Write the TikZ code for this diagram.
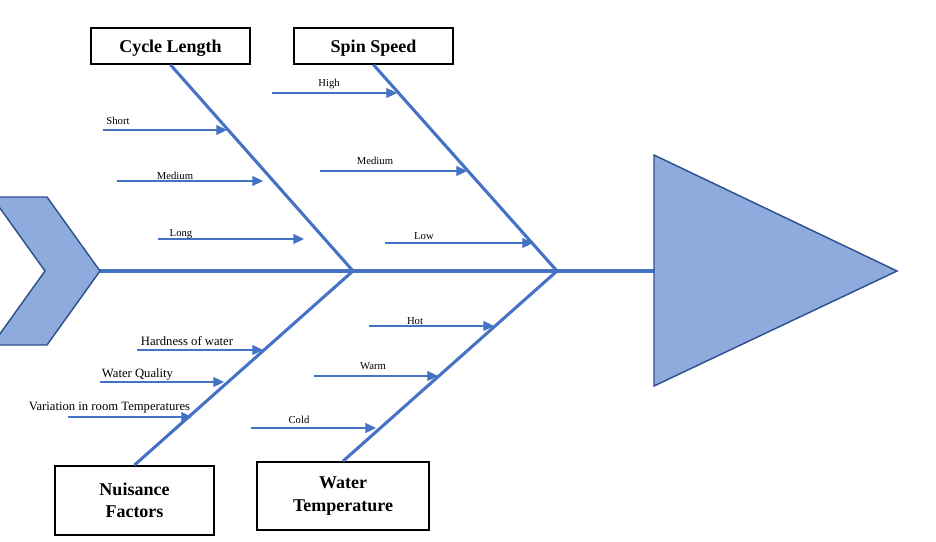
\documentclass[tikz,border=0pt]{standalone}
\usepackage{fontspec}
\setmainfont{Liberation Serif}
\usetikzlibrary{arrows.meta}
\definecolor{bonecol}{HTML}{4472C4}
\definecolor{shapefill}{HTML}{8FAADC}
\definecolor{shapeline}{HTML}{2F528F}

\begin{document}
\begin{tikzpicture}[x=0.75pt, y=-0.75pt, >={Triangle[length=8pt,width=7.5pt]},
                    cause/.style={draw=black, line width=1.2pt, fill=white, align=center, inner sep=0pt,
                                  font=\fontsize{13.5}{17}\selectfont\bfseries, minimum width=119pt},
                    oneline/.style={text height=12pt, text depth=1.5pt},
                    sub/.style={font=\fontsize{8}{9}\selectfont, anchor=base},
                    subbig/.style={font=\fontsize{9.5}{11}\selectfont, anchor=base},
                    bone/.style={draw=bonecol, line width=2.3pt},
                    twig/.style={draw=bonecol, line width=0.8pt, ->},
                    arrowshape/.style={fill=shapefill, draw=shapeline, line width=1.1pt}]

\useasboundingbox (0,0) rectangle (936,542);
\clip (0,0) rectangle (936,542);

\coordinate (tail) at (100,271);
\coordinate (head) at (654,271);
\coordinate (j1) at (353,271);
\coordinate (j2) at (557,271);

\node[cause, oneline, minimum height=27pt] (cl) at (170.5,46) {Cycle Length};
\node[cause, oneline, minimum height=27pt] (ss) at (373.5,46) {Spin Speed};
\node[cause, minimum height=52pt] (nf) at (134.5,500.5) {Nuisance\\Factors};
\node[cause, minimum height=51pt, minimum width=129pt] (wt) at (343,496) {Water\\Temperature};

\draw[bone] (tail) -- (head);
\draw[bone] (cl.south) -- (j1);
\draw[bone] (nf.north) -- (j1);
\draw[bone] (ss.south) -- (j2);
\draw[bone] (wt.north) -- (j2);

\path[arrowshape] (-8,197) -- (47,197) -- (tail) -- (47,345) -- (-8,345) -- (45,271) -- cycle;
\path[arrowshape] (head) -- (654,155) -- (897,271) -- (654,386) -- cycle;

% cycle length
\coordinate (a1) at (103,130); \coordinate (b1) at (227,130);
\coordinate (a2) at (117,181); \coordinate (b2) at (263,181);
\coordinate (a3) at (158,239); \coordinate (b3) at (304,239);
\draw[twig] (a1) -- (b1);
\draw[twig] (a2) -- (b2);
\draw[twig] (a3) -- (b3);
\node[sub] (short) at (118,125) {Short};
\node[sub] (medcl) at (175,179) {Medium};
\node[sub] (long) at (181,236) {Long};

% spin speed
\coordinate (a4) at (272,93);  \coordinate (b4) at (397,93);
\coordinate (a5) at (320,171); \coordinate (b5) at (467,171);
\coordinate (a6) at (385,243); \coordinate (b6) at (533,243);
\draw[twig] (a4) -- (b4);
\draw[twig] (a5) -- (b5);
\draw[twig] (a6) -- (b6);
\node[sub] (high) at (329,87) {High};
\node[sub] (medss) at (375,164) {Medium};
\node[sub] (low) at (424,239) {Low};

% nuisance factors
\coordinate (a7) at (137,350); \coordinate (b7) at (263,350);
\coordinate (a8) at (100,382); \coordinate (b8) at (224,382);
\coordinate (a9) at (68,417);  \coordinate (b9) at (192,417);
\draw[twig] (a7) -- (b7);
\draw[twig] (a8) -- (b8);
\draw[twig] (a9) -- (b9);
\node[subbig] (hard) at (187,345) {Hardness of water};
\node[subbig] (qual) at (137.5,377) {Water Quality};
\node[subbig] (room) at (109.5,410) {Variation in room Temperatures};

% water temperature
\coordinate (a10) at (369,326); \coordinate (b10) at (494,326);
\coordinate (a11) at (314,376); \coordinate (b11) at (438,376);
\coordinate (a12) at (251,428); \coordinate (b12) at (376,428);
\draw[twig] (a10) -- (b10);
\draw[twig] (a11) -- (b11);
\draw[twig] (a12) -- (b12);
\node[sub] (hot) at (415,324) {Hot};
\node[sub] (warm) at (373,369) {Warm};
\node[sub] (cold) at (299,423) {Cold};
\end{tikzpicture}
\end{document}
